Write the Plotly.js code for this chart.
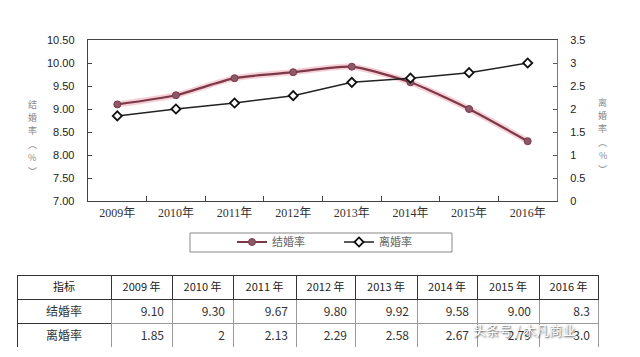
<!DOCTYPE html>
<html>
<head>
<meta charset="utf-8">
<script src="https://cdn.plot.ly/plotly-3.0.1.min.js"></script>
<style>html,body{margin:0;padding:0;background:#fff;}#chart{width:640px;height:357px;}</style>
</head>
<body>
<div id="chart"></div>
<script>
// ---- data ----
const years = ['2009年','2010年','2011年','2012年','2013年','2014年','2015年','2016年'];
const tableYears = ['2009 年','2010 年','2011 年','2012 年','2013 年','2014 年','2015 年','2016 年'];
const marriageRate = [9.10, 9.30, 9.67, 9.80, 9.92, 9.58, 9.00, 8.30];
const divorceRate = [1.85, 2.00, 2.13, 2.29, 2.58, 2.67, 2.79, 3.00];
const marriageLabels = ['9.10','9.30','9.67','9.80','9.92','9.58','9.00','8.3'];
const divorceLabels = ['1.85','2','2.13','2.29','2.58','2.67','2.79','3.0'];
const seriesNames = ['结婚率','离婚率'];
const indicatorHeader = '指标';
const leftTitleChars = ['结','婚','率','︵','%','︶'];
const rightTitleChars = ['离','婚','率','︵','%','︶'];
const watermark = '头条号 / 木凡商业';
const leftTicks = [7.00, 7.50, 8.00, 8.50, 9.00, 9.50, 10.00, 10.50];
const rightTicks = [0, 0.5, 1, 1.5, 2, 2.5, 3, 3.5];

const W = 640, H = 357;
const px = x => x / W;
const py = y => 1 - y / H;

const glow = {
  x: years, y: marriageRate, type: 'scatter', mode: 'lines',
  line: {color: 'rgba(230,120,140,0.35)', width: 6, shape: 'spline', smoothing: 0.6},
  showlegend: false, hoverinfo: 'skip', xaxis: 'x', yaxis: 'y'
};
const marriage = {
  x: years, y: marriageRate, type: 'scatter', mode: 'lines+markers', name: seriesNames[0],
  line: {color: '#7d3848', width: 2.2, shape: 'spline', smoothing: 0.6},
  marker: {symbol: 'circle', size: 7, color: '#8a5a6a', line: {color: '#7d3848', width: 1}},
  xaxis: 'x', yaxis: 'y'
};
const divorce = {
  x: years, y: divorceRate, type: 'scatter', mode: 'lines+markers', name: seriesNames[1],
  line: {color: '#222', width: 1.5},
  marker: {symbol: 'diamond', size: 7, color: '#fff', line: {color: '#111', width: 1.8}},
  xaxis: 'x', yaxis: 'y2'
};

const colWidths = [94, 61, 61, 63, 59, 62, 60, 62, 59];
const cellCols = [seriesNames];
for (let i = 0; i < years.length; i++) cellCols.push([marriageLabels[i], divorceLabels[i]]);
const table = {
  type: 'table',
  domain: {x: [px(17), px(598)], y: [py(348), py(275)]},
  columnwidth: colWidths,
  header: {
    values: [indicatorHeader].concat(tableYears),
    align: 'center', height: 24,
    line: {color: '#333', width: 1},
    fill: {color: '#fff'},
    font: {family: 'Noto Sans CJK SC, sans-serif', size: 11, color: '#222'}
  },
  cells: {
    values: cellCols,
    align: ['center','right','right','right','right','right','right','right','right'],
    height: 24,
    line: {color: ['#333','#999','#999','#999','#999','#999','#999','#999','#999'], width: 1},
    fill: {color: '#fff'},
    font: {family: 'Noto Sans CJK SC, sans-serif', size: 12, color: '#333'}
  }
};

const annotations = [];
const titleFont = {family: 'Noto Sans CJK SC, sans-serif', size: 9, color: '#888'};
leftTitleChars.forEach((c, i) => annotations.push({
  xref: 'paper', yref: 'paper', x: px(27), y: py(104 + i * 13.4), showarrow: false,
  text: c, font: titleFont, yanchor: 'middle', borderpad: 0
}));
rightTitleChars.forEach((c, i) => annotations.push({
  xref: 'paper', yref: 'paper', x: px(608), y: py(102 + i * 13.4), showarrow: false,
  text: c, font: titleFont, yanchor: 'middle', borderpad: 0
}));
annotations.push({
  xref: 'paper', yref: 'paper', x: px(577), y: py(341), showarrow: false,
  text: watermark,
  font: {family: 'Noto Sans CJK SC, sans-serif', size: 13, color: '#fff', shadow: '1px 1px 2px #444'}
});

const layout = {
  width: W, height: H,
  margin: {l: 0, r: 0, t: 0, b: 0},
  paper_bgcolor: '#fff', plot_bgcolor: '#fff',
  showlegend: true,
  font: {family: 'Liberation Sans, Arial, sans-serif', color: '#333'},
  xaxis: {
    domain: [px(88), px(557)], anchor: 'y',
    type: 'category', range: [-0.5, 7.5],
    showline: true, linecolor: '#444', linewidth: 1.3, mirror: true,
    ticks: 'inside', tickson: 'boundaries', ticklen: 5, tickcolor: '#444',
    showgrid: false, zeroline: false,
    tickfont: {family: 'Liberation Serif, Noto Sans CJK SC, serif', size: 12, color: '#333'}
  },
  yaxis: {
    domain: [py(201), py(40)], anchor: 'x',
    range: [7, 10.5], tickvals: leftTicks, tickformat: '.2f',
    showline: true, linecolor: '#444', linewidth: 1.3,
    ticks: 'inside', ticklen: 4, tickcolor: '#444', ticklabelstandoff: 10,
    showgrid: false, zeroline: false,
    tickfont: {family: 'Liberation Sans, Arial, sans-serif', size: 11, color: '#222'}
  },
  yaxis2: {
    domain: [py(201), py(40)], anchor: 'x', overlaying: 'y', side: 'right',
    range: [0, 3.5], tickvals: rightTicks,
    showline: true, linecolor: '#777', linewidth: 1,
    ticks: 'inside', ticklen: 4, tickcolor: '#555', ticklabelstandoff: 10,
    showgrid: false, zeroline: false,
    tickfont: {family: 'Liberation Sans, Arial, sans-serif', size: 11, color: '#222'}
  },
  legend: {
    orientation: 'h', x: px(232), xanchor: 'left', y: py(242), yanchor: 'middle',
    entrywidth: 62, entrywidthmode: 'pixels', itemwidth: 30,
    bgcolor: 'rgba(0,0,0,0)', borderwidth: 0,
    font: {family: 'Noto Sans CJK SC, sans-serif', size: 11, color: '#666'}
  },
  shapes: [
    {type: 'rect', xref: 'paper', yref: 'paper', x0: px(190), x1: px(452), y0: py(252), y1: py(233),
     line: {color: '#888', width: 1}, fillcolor: 'rgba(0,0,0,0)'}
  ],
  annotations: annotations
};

Plotly.newPlot('chart', [table, glow, marriage, divorce], layout, {displayModeBar: false, staticPlot: true});
</script>
</body>
</html>
